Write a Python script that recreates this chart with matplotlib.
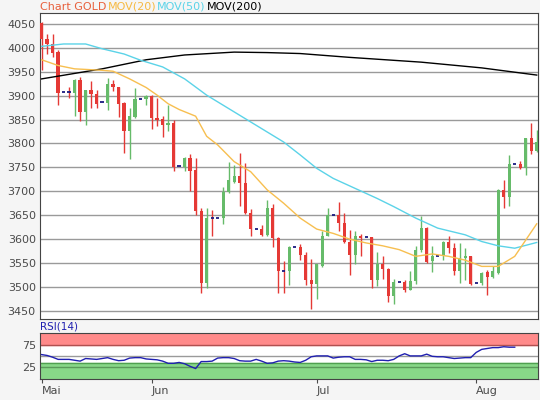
"""Candlestick GOLD con medie mobili e pannello RSI -> out.png."""

import matplotlib

matplotlib.use("Agg")
import matplotlib.pyplot as plt  # noqa: E402
import numpy as np  # noqa: E402

# --- Dati ---------------------------------------------------------------------
opens = [4052, 4019, 4008, 3991, 3907, 3908, 3906, 3932, 3866, 3911,
         3904, 3886, 3885, 3924, 3918, 3885, 3826, 3856, 3894, 3894,
         3899, 3854, 3851, 3838, 3843, 3753, 3751, 3770, 3744, 3658,
         3508, 3645, 3644, 3644, 3699, 3720, 3731, 3717, 3654, 3621,
         3621, 3609, 3665, 3602, 3533, 3533, 3583, 3583, 3567, 3514,
         3507, 3543, 3607, 3650, 3651, 3633, 3593, 3567, 3607, 3604,
         3604, 3514, 3549, 3537, 3481, 3510, 3510, 3494, 3512, 3578,
         3623, 3555, 3564, 3564, 3593, 3581, 3533, 3560, 3564, 3508,
         3508, 3531, 3521, 3529, 3703, 3689, 3757, 3757, 3748, 3812, 3785]
closes = [4019, 4008, 3989, 3906, 3907, 3906, 3932, 3866, 3911, 3904,
          3883, 3886, 3924, 3918, 3883, 3826, 3858, 3894, 3894, 3899,
          3854, 3849, 3838, 3843, 3751, 3753, 3770, 3743, 3658, 3508,
          3644, 3643, 3644, 3699, 3724, 3731, 3717, 3654, 3621, 3621,
          3609, 3665, 3602, 3533, 3532, 3583, 3583, 3567, 3514, 3507,
          3547, 3607, 3651, 3650, 3633, 3593, 3567, 3606, 3602, 3604,
          3514, 3549, 3537, 3481, 3510, 3510, 3494, 3512, 3578, 3623,
          3553, 3565, 3564, 3593, 3581, 3533, 3560, 3564, 3507, 3508,
          3529, 3521, 3533, 3703, 3689, 3757, 3757, 3748, 3812, 3785, 3803]
highs = [4053, 4028, 4028, 3995, 3907, 3918, 3935, 3938, 3912, 3930,
         3911, 3886, 3936, 3933, 3919, 3886, 3875, 3917, 3894, 3901,
         3901, 3896, 3857, 3880, 3849, 3753, 3772, 3778, 3769, 3665,
         3665, 3660, 3644, 3708, 3762, 3755, 3781, 3760, 3662, 3621,
         3630, 3681, 3674, 3604, 3554, 3585, 3583, 3590, 3574, 3558,
         3548, 3616, 3665, 3650, 3677, 3654, 3619, 3616, 3611, 3604,
         3604, 3574, 3564, 3540, 3517, 3510, 3514, 3533, 3585, 3649,
         3626, 3585, 3564, 3597, 3607, 3592, 3592, 3581, 3564, 3508,
         3531, 3536, 3543, 3704, 3724, 3776, 3757, 3764, 3812, 3842, 3828]
lows = [3953, 3988, 3981, 3880, 3907, 3896, 3857, 3847, 3838, 3874,
        3874, 3886, 3871, 3910, 3856, 3781, 3767, 3854, 3894, 3880,
        3831, 3837, 3814, 3826, 3743, 3753, 3743, 3700, 3651, 3487,
        3498, 3606, 3644, 3631, 3696, 3717, 3669, 3653, 3606, 3621,
        3607, 3607, 3583, 3487, 3487, 3505, 3583, 3557, 3505, 3453,
        3474, 3542, 3607, 3650, 3616, 3592, 3526, 3548, 3565, 3604,
        3498, 3501, 3517, 3468, 3465, 3510, 3489, 3494, 3507, 3574,
        3550, 3532, 3564, 3556, 3571, 3526, 3508, 3515, 3505, 3508,
        3505, 3484, 3519, 3528, 3666, 3669, 3757, 3746, 3734, 3778, 3783]

ma20_x = [0, 3, 6, 11, 13, 16, 19, 21, 23, 25, 28, 30,
          32, 35, 38, 41, 44, 47, 50, 53, 56, 59, 62, 65,
          68, 71, 74, 77, 80, 83, 86, 90]
ma20_y = [3975, 3963, 3956, 3953, 3951, 3935, 3917, 3901, 3883, 3871, 3857, 3815,
          3797, 3762, 3741, 3703, 3675, 3644, 3621, 3612, 3600, 3592, 3586, 3578,
          3564, 3569, 3564, 3556, 3543, 3543, 3564, 3632]
ma50_x = [0, 4, 8, 11, 15, 18, 22, 26, 30, 44, 47, 50, 53, 57, 61, 64,
          68, 72, 77, 80, 83, 86, 90]
ma50_y = [4003, 4008, 4008, 3998, 3987, 3974, 3960, 3935, 3901, 3803, 3776, 3748,
          3727, 3706, 3685, 3668, 3644, 3623, 3609, 3595, 3586, 3581, 3593]
ma200_x = [0, 11, 19, 26, 35, 41, 47, 56, 69, 80, 90]
ma200_y = [3935, 3956, 3975, 3985, 3991, 3990, 3988, 3980, 3970, 3958, 3943]

rsi = [53, 51, 47, 42, 42, 42, 40, 38, 44, 43, 42, 44, 46, 42, 39, 40, 45, 46,
       46, 43, 42, 41, 38, 33, 33, 35, 32, 26, 21, 37, 37, 38, 45, 46, 46, 44,
       39, 38, 38, 42, 38, 33, 34, 38, 39, 38, 36, 35, 40, 48, 50, 50, 50, 45,
       47, 48, 48, 42, 42, 41, 37, 40, 40, 39, 42, 50, 55, 50, 50, 50, 54, 49,
       48, 48, 46, 44, 45, 46, 46, 58, 65, 67, 69, 69, 71, 70, 70]

month_pos = [0, 20, 50, 79]
month_labels = ["Mai", "Jun", "Jul", "Aug"]

RED = "#e53935"
GREEN = "#66bb6a"
GRID = "#9a9a9a"
TXT = "#4a4a4a"

fig = plt.figure(figsize=(5.4, 4.0), dpi=100, facecolor="#f5f5f5")
ax = fig.add_axes([0.074, 0.2025, 0.922, 0.766])
ax_rsi = fig.add_axes([0.074, 0.0525, 0.922, 0.1155], sharex=ax)

# --- Candele -------------------------------------------------------------------
for i, (o, c, h, lo) in enumerate(zip(opens, closes, highs, lows)):
    col = RED if c < o else GREEN
    ax.vlines(i, lo, h, color=col, lw=1, zorder=3)
    if abs(c - o) < 2.5:
        # doji: trattino scuro
        ax.hlines((o + c) / 2, i - 0.3, i + 0.3, color="#1a1a80", lw=1.3, zorder=4)
    else:
        ax.bar(i, abs(c - o), bottom=min(o, c), width=0.6, color=col, zorder=4)

ax.plot(ma200_x, ma200_y, color="black", lw=1, zorder=5)
ax.plot(ma50_x, ma50_y, color="#5bd3e8", lw=1, zorder=5)
ax.plot(ma20_x, ma20_y, color="#f7bf50", lw=1, zorder=5)

ax.set_xlim(-0.3, 90.2)
ax.set_ylim(3433, 4073.6)
ax.set_yticks(range(3450, 4051, 50))
ax.grid(axis="y", color=GRID, lw=1)
ax.set_axisbelow(True)
ax.tick_params(axis="y", colors=TXT, labelsize=8, length=0, pad=3)
ax.tick_params(axis="x", bottom=False, labelbottom=False)
for s in ax.spines.values():
    s.set_color("#444444")

# Legenda testuale in alto
x0 = 0.074
for txt, col in [("Chart GOLD", "#e8603c"), ("MOV(20)", "#f5b942"),
                 ("MOV(50)", "#5bd3e8"), ("MOV(200)", "black")]:
    t = fig.text(x0, 0.971, txt, color=col, fontsize=8, va="bottom")
    fig.canvas.draw()
    bb = t.get_window_extent()
    x0 += bb.width / fig.bbox.width + 0.002

# --- RSI -----------------------------------------------------------------------
ax_rsi.axhspan(75, 103, color="#ff8a8a", zorder=0)
ax_rsi.axhspan(-3, 34, color="#88d888", zorder=0)
ax_rsi.axhline(75, color="#b05050", lw=1)
ax_rsi.axhline(34, color="#50a050", lw=1)
ax_rsi.axhline(50, color=GRID, lw=1)
ax_rsi.axhline(25, color="#5a9a5a", lw=1)
ax_rsi.plot(np.arange(len(rsi)), rsi, color="#2020b0", lw=1, zorder=3)
ax_rsi.set_ylim(-3, 103)
ax_rsi.set_yticks([25, 75])
ax_rsi.tick_params(axis="y", colors=TXT, labelsize=8, length=0, pad=3)
ax_rsi.set_xticks(month_pos)
ax_rsi.set_xticklabels(month_labels, ha="left")
ax_rsi.tick_params(axis="x", colors=TXT, labelsize=8, length=3, pad=2)
for s in ax_rsi.spines.values():
    s.set_color("#444444")
ax_rsi.text(0.0, 1.02, "RSI(14)", color="#2020b0", fontsize=7.5,
            transform=ax_rsi.transAxes, va="bottom")

fig.savefig("out.png", dpi=100, facecolor=fig.get_facecolor())
